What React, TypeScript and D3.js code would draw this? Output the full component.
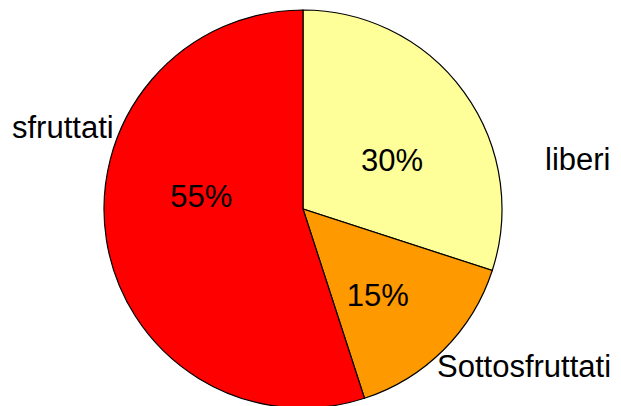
import React from 'react';
import * as d3 from 'd3';

// slice data, clockwise from 12 o'clock
const categories = ['liberi', 'Sottosfruttati', 'sfruttati'];
const values = [30, 15, 55];
const colors = ['#FFFF99', '#FF9900', '#FF0000'];

const width = 621;
const height = 406;
const cx = 303;
const cy = 209;
const radius = 199;
const fontFamily = 'Liberation Sans, Arial, sans-serif';
const fontSize = 31;

// where each category name sits outside the pie (anchor, x, baseline y)
const outerLabelPos: Record<string, { x: number; y: number; anchor: string }> = {
  liberi: { x: 545, y: 170, anchor: 'start' },
  Sottosfruttati: { x: 437, y: 377, anchor: 'start' },
  sfruttati: { x: 12, y: 138, anchor: 'start' },
};

// small nudges of the percent labels away from the slice centroid
const pctNudge: Record<string, [number, number]> = {
  liberi: [0, 15],
  Sottosfruttati: [-3, 8],
  sfruttati: [7, -30],
};

const App: React.FC = () => {
  const total = d3.sum(values);
  const pie = d3.pie<number>().sort(null).startAngle(0).endAngle(2 * Math.PI);
  const arcs = pie(values);
  const arc = d3.arc<d3.PieArcDatum<number>>().innerRadius(0).outerRadius(radius);
  const labelArc = d3.arc<d3.PieArcDatum<number>>().innerRadius(110).outerRadius(110);

  return (
    <svg
      width={width}
      height={height}
      style={{ position: 'absolute', left: 0, top: 0, background: '#fff' }}
    >
      <g transform={`translate(${cx},${cy})`}>
        {arcs.map((a, i) => (
          <path key={i} d={arc(a) || ''} fill={colors[i]} stroke="#000" strokeWidth={1.2} />
        ))}
        {arcs.map((a, i) => {
          const [x, y] = labelArc.centroid(a);
          const [nx, ny] = pctNudge[categories[i]];
          return (
            <text
              key={'p' + i}
              x={x + nx}
              y={y + ny}
              dy="0.36em"
              textAnchor="middle"
              fontFamily={fontFamily}
              fontSize={fontSize}
              fill="#000"
            >
              {`${Math.round((values[i] / total) * 100)}%`}
            </text>
          );
        })}
      </g>
      {categories.map((c) => {
        const p = outerLabelPos[c];
        return (
          <text
            key={c}
            x={p.x}
            y={p.y}
            textAnchor={p.anchor}
            fontFamily={fontFamily}
            fontSize={fontSize}
            fill="#000"
          >
            {c}
          </text>
        );
      })}
    </svg>
  );
};

export default App;
